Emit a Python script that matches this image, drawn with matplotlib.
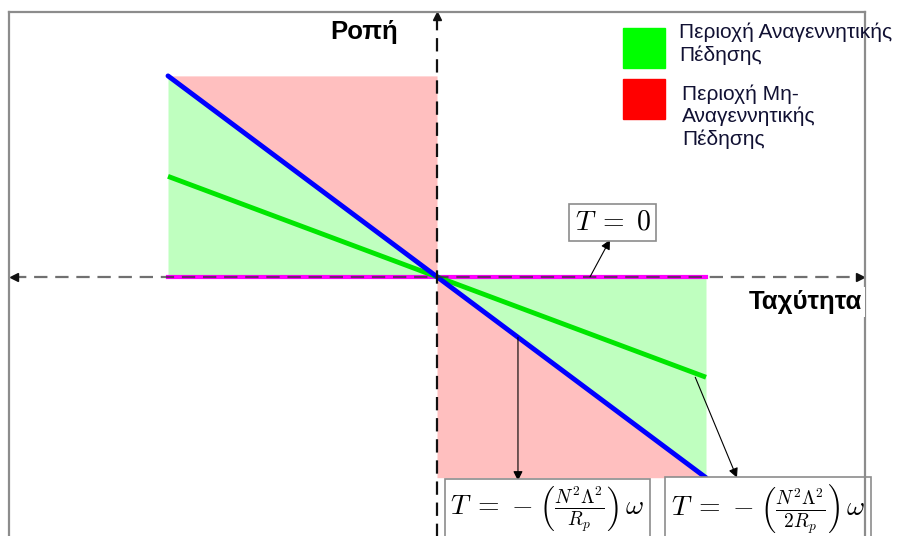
import matplotlib.pyplot as plt
from matplotlib.patches import Rectangle
import numpy as np

plt.rcParams['font.family'] = ['Liberation Sans', 'DejaVu Sans']
plt.rcParams['mathtext.fontset'] = 'cm'

# speed range and braking torque lines
omega = np.array([-1.0, 0.0, 1.0])
torque_full = -1.0 * omega      # T = -(N^2 L^2 / Rp) w
torque_half = -0.5 * omega      # T = -(N^2 L^2 / 2Rp) w
torque_zero = 0.0 * omega       # T = 0
T_MAX = 1.0

W_MIN, W_MAX = -1.591, 1.591
T_MIN, T_MAX_AX = -1.33, 1.318

legend_labels = ['Περιοχή Αναγεννητικής\nΠέδησης',
                 'Περιοχή Μη-\nΑναγεννητικής\nΠέδησης']
legend_colors = ['#00ff00', '#ff0000']

label_zero = r'$T\;=\;0$'
label_full = r'$T\;=\;{-}\;\left(\frac{N^2\Lambda^2}{R_p}\right)\,\omega$'
label_half = r'$T\;=\;{-}\;\left(\frac{N^2\Lambda^2}{2R_p}\right)\,\omega$'

W, H = 900, 536
fig = plt.figure(figsize=(9, 5.36), dpi=100)
# frame runs past the lower edge of the figure
ax = fig.add_axes([9 / W, 1 - 544 / H, (865 - 9) / W, (544 - 12) / H])
ax.set_xlim(W_MIN, W_MAX)
ax.set_ylim(T_MIN, T_MAX_AX)
ax.set_xticks([])
ax.set_yticks([])
for s in ax.spines.values():
    s.set_color('#8c8c8c')
    s.set_linewidth(1.6)
    s.set_zorder(10)

# braking regions
w_neg = omega[:2]
w_pos = omega[1:]
ax.fill_between(w_neg, torque_full[:2], T_MAX, color='#ffbfbf', lw=0)
ax.fill_between(w_neg, 0, torque_full[:2], color='#bfffbf', lw=0)
ax.fill_between(w_pos, torque_full[1:], -T_MAX, color='#ffbfbf', lw=0)
ax.fill_between(w_pos, 0, torque_full[1:], color='#bfffbf', lw=0)

ax.plot(omega, torque_zero, color='#ff00ff', lw=3, zorder=3)
ax.plot(omega, torque_half, color='#00e600', lw=3.5, zorder=4,
        solid_capstyle='butt')
ax.plot(omega, torque_full, color='#0000ff', lw=3.5, zorder=5,
        solid_capstyle='round')

# dashed axes with arrowheads
ax.plot([W_MIN + 0.015, W_MAX - 0.015], [0, 0], color='#333333', lw=1.6,
        ls=(0, (6, 3.5)), alpha=0.7, zorder=6)
ax.plot([0, 0], [T_MIN, T_MAX_AX - 0.015], color='#111111', lw=1.6,
        ls=(0, (6, 3.5)), zorder=6)
ax.plot([W_MIN + 0.02], [0], marker='<', color='#111111', ms=6, zorder=7)
ax.plot([W_MAX - 0.02], [0], marker='>', color='#111111', ms=6, zorder=7)
ax.plot([0], [T_MAX_AX - 0.02], marker='^', color='#111111', ms=6, zorder=7)

ax.text(-0.271, 1.22, 'Ροπή', fontsize=18.5, fontweight='bold',
        ha='center', va='center')
ax.text(1.368, -0.124, 'Ταχύτητα', fontsize=18.5, fontweight='bold',
        ha='center', va='center', zorder=12,
        bbox=dict(facecolor='white', edgecolor='none', pad=2))

box = dict(boxstyle='square,pad=0.2', facecolor='white',
           edgecolor='#8c8c8c', lw=1.2)
arrow = dict(arrowstyle='-|>', color='black', lw=0.8,
             mutation_scale=14, shrinkA=0, shrinkB=0)

ax.annotate('', xy=(0.643, 0.184), xytext=(0.569, 0.0),
            arrowprops=arrow, zorder=8)
ax.text(0.654, 0.272, label_zero, fontsize=20, ha='center', va='center',
        bbox=box, zorder=9)

ax.annotate('', xy=(0.301, -1.015), xytext=(0.301, -0.301),
            arrowprops=arrow, zorder=8)
ax.annotate('', xy=(1.115, -1.0), xytext=(0.96, -0.5),
            arrowprops=arrow, zorder=8)
ax.text(0.411, -1.16, label_full, fontsize=20, ha='center', va='center',
        bbox=box, zorder=9)
ax.text(1.230, -1.16, label_half, fontsize=20, ha='center', va='center',
        bbox=box, zorder=9)

# region key
def fx(px):
    return px / W


def fy(py):
    return 1 - py / H


fig.patches.append(Rectangle((fx(623), fy(68)), fx(42), 40 / H,
                             transform=fig.transFigure, color=legend_colors[0],
                             zorder=3))
fig.patches.append(Rectangle((fx(623), fy(119)), fx(42), 40 / H,
                             transform=fig.transFigure, color=legend_colors[1],
                             zorder=3))
fig.text(fx(679), fy(23), legend_labels[0], fontsize=15, va='top',
         ha='left', linespacing=1.2, color='#111133')
fig.text(fx(682), fy(84), legend_labels[1], fontsize=15, va='top',
         ha='left', linespacing=1.2, color='#111133')

fig.savefig('out.png', dpi=100)
